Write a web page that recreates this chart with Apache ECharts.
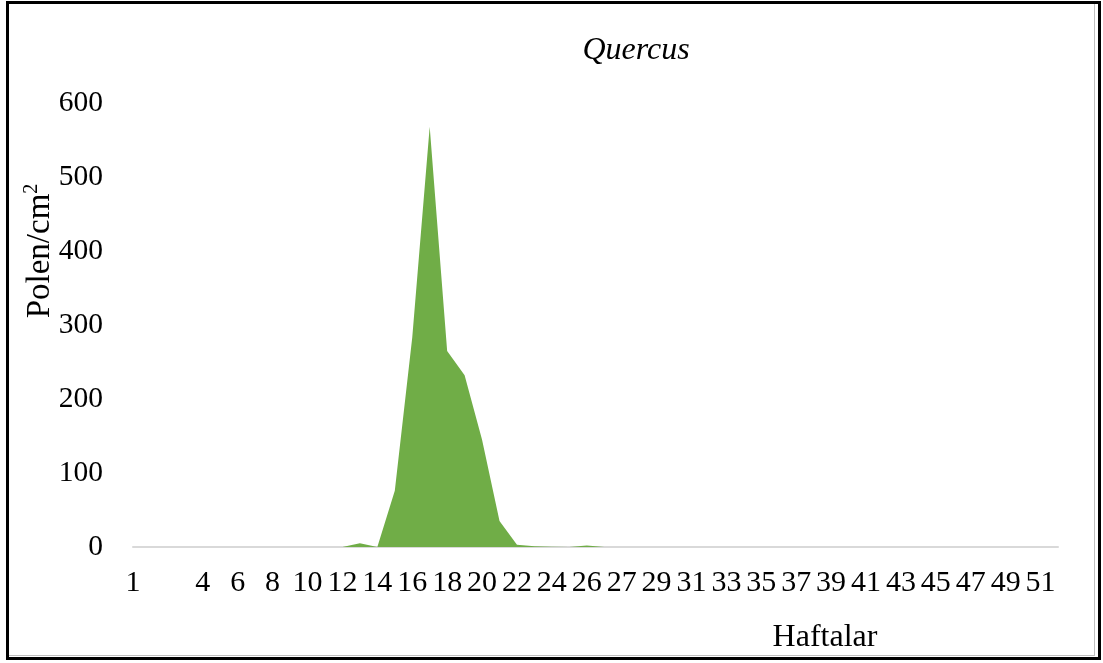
<!DOCTYPE html>
<html>
<head>
<meta charset="utf-8">
<script src="https://cdn.jsdelivr.net/npm/echarts@6/dist/echarts.min.js"></script>
<style>
html,body{margin:0;padding:0;background:#fff;}
#chart{position:absolute;left:0;top:0;width:1103px;height:663px;}
#frame{position:absolute;left:6px;top:1px;width:1089px;height:653px;border:3px solid #000;pointer-events:none;}
#inner{position:absolute;left:9px;top:4px;width:1085px;height:651px;border-right:1px solid #bfbfbf;border-bottom:1px solid #bfbfbf;pointer-events:none;}
</style>
</head>
<body>
<div id="chart"></div>
<div id="inner"></div>
<div id="frame"></div>
<script>
// Week labels (as shown on the category axis)
const weeks = ["1","2","","3","4","5","6","7","8","9","10","11","12","13","14","15","16","17","18","19","20","21","22","23","24","25","26","26","27","28","29","30","31","32","33","34","35","36","37","38","39","40","41","42","43","44","45","46","47","48","49","50","51","52"];
// Quercus pollen counts (Polen/cm2)
const quercus = [0,0,0,0,0,0,0,0,0,0,0,0,0,5,0,76,283,568,265,232,145,35,3,1,0.5,0,2,0,0,0,0,0,0,0,0,0,0,0,0,0,0,0,0,0,0,0,0,0,0,0,0,0,0,0];
const yTicks = {min:0, max:600, interval:100};

const font = "'Liberation Serif','Times New Roman',serif";
const chart = echarts.init(document.getElementById('chart'));
chart.setOption({
  animation:false,
  backgroundColor:'#fff',
  title:[
    {text:'Quercus', left:636, top:30, textAlign:'center',
     textStyle:{fontFamily:font, fontStyle:'italic', fontWeight:'normal', fontSize:32, color:'#000'}},
    {text:'Haftalar', left:825, top:617, textAlign:'center',
     textStyle:{fontFamily:font, fontWeight:'normal', fontSize:32, color:'#000'}}
  ],
  graphic:[{
    type:'text', x:40, y:251, rotation:Math.PI/2,
    style:{
      text:'{a|Polen/cm}{b|2}', align:'center', verticalAlign:'middle',
      rich:{
        a:{fontFamily:font, fontSize:33, fill:'#000', lineHeight:36},
        b:{fontFamily:font, fontSize:20, fill:'#000', verticalAlign:'top', lineHeight:36, padding:[0,0,14,0]}
      }
    }
  }],
  grid:{left:133, right:45, top:103, bottom:116, containLabel:false},
  xAxis:{
    type:'category', data:weeks, boundaryGap:false,
    axisLine:{lineStyle:{color:'#d9d9d9', width:2}},
    axisTick:{show:false},
    axisLabel:{interval:1, fontFamily:font, fontSize:30, color:'#000', margin:21}
  },
  yAxis:{
    type:'value', min:yTicks.min, max:yTicks.max, interval:yTicks.interval,
    axisLine:{show:false}, axisTick:{show:false}, splitLine:{show:false},
    axisLabel:{fontFamily:font, fontSize:29.5, color:'#000', margin:30}
  },
  series:[{
    type:'line', data:quercus, symbol:'none',
    lineStyle:{width:0, color:'#70AD47'},
    areaStyle:{color:'#70AD47', opacity:1}
  }]
});
chart.setOption({title:[{left:631},{left:820}]});
</script>
</body>
</html>
